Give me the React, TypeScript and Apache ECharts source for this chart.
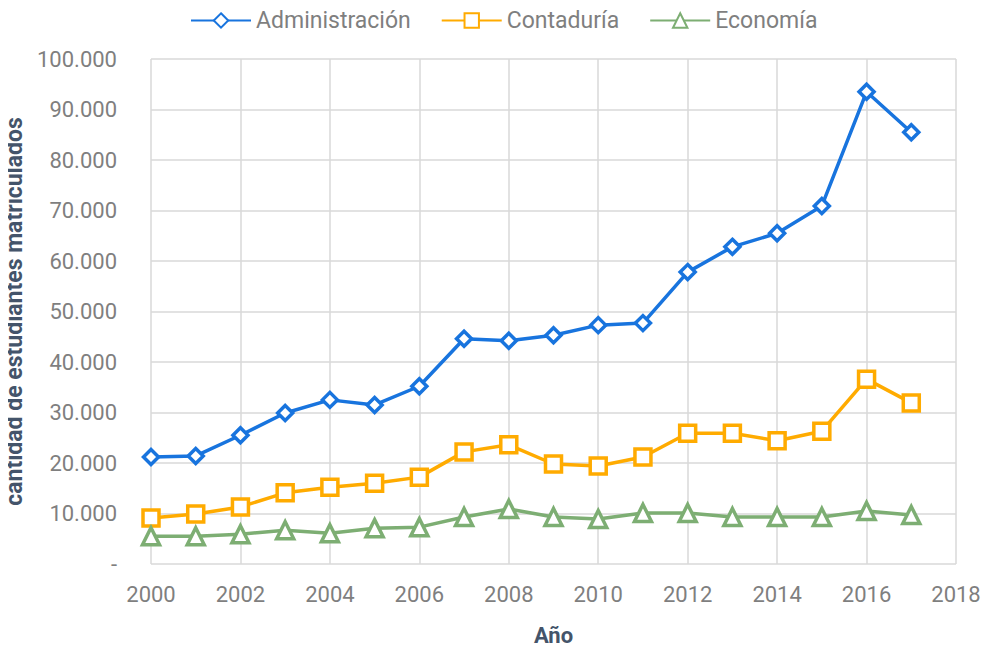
import React, { useEffect, useRef } from "react";
import * as echarts from "echarts";

const years = [2000, 2001, 2002, 2003, 2004, 2005, 2006, 2007, 2008, 2009, 2010, 2011, 2012, 2013, 2014, 2015, 2016, 2017];
const administracion = [21200, 21400, 25500, 29900, 32500, 31500, 35200, 44600, 44200, 45300, 47300, 47700, 57800, 62800, 65500, 70900, 93500, 85500];
const contaduria = [9100, 9900, 11300, 14100, 15200, 16000, 17200, 22200, 23600, 19800, 19400, 21200, 25900, 25900, 24400, 26300, 36600, 31900];
const economia = [5500, 5500, 5900, 6700, 6100, 7100, 7300, 9300, 10900, 9300, 8900, 10100, 10100, 9300, 9300, 9300, 10500, 9700];
const seriesNames = ["Administración", "Contaduría", "Economía"];

const FONT = "Roboto, 'Liberation Sans', Arial, sans-serif";

function fmt(v: number): string {
  if (v === 0) return "-";
  return String(v).replace(/\B(?=(\d{3})+(?!\d))/g, ".");
}

export default function App() {
  const ref = useRef<HTMLDivElement>(null);
  useEffect(() => {
    if (!ref.current) return;
    const chart = echarts.init(ref.current, undefined, { renderer: "svg" });
    const mk = (name: string, data: number[], color: string, symbol: string, size: number) => ({
      name,
      type: "line",
      data: years.map((y, i) => [y, data[i]]),
      symbol,
      symbolSize: size,
      showAllSymbol: true,
      lineStyle: { color, width: 3.5 },
      itemStyle: { color: "#ffffff", borderColor: color, borderWidth: 3.5 },
      emphasis: { disabled: true },
    });
    chart.setOption({
      animation: false,
      legend: {
        top: 4,
        left: 185,
        itemWidth: 60,
        itemHeight: 18,
        itemGap: 30,
        textStyle: { color: "#7f7f7f", fontSize: 23, fontFamily: FONT },
        data: seriesNames,
      },
      grid: { left: 151, right: 34, top: 59, bottom: 88, containLabel: false, outerBoundsMode: "none" },
      xAxis: {
        type: "value",
        min: 2000,
        max: 2018,
        interval: 2,
        name: "Año",
        nameLocation: "middle",
        nameGap: 60,
        nameTextStyle: { color: "#44546a", fontSize: 22, fontWeight: "bold", fontFamily: FONT },
        axisLine: { show: false },
        axisTick: { show: false },
        axisLabel: { color: "#7f7f7f", fontSize: 22, fontFamily: FONT, margin: 19, formatter: (v: number) => String(v) },
        splitLine: { show: true, lineStyle: { color: "#d9d9d9", width: 1.5 } },
      },
      yAxis: {
        type: "value",
        min: 0,
        max: 100000,
        interval: 10000,
        name: "cantidad de estudiantes matriculados",
        nameLocation: "middle",
        nameGap: 106,
        nameTextStyle: { color: "#44546a", fontSize: 23, fontWeight: "bold", fontFamily: FONT },
        axisLine: { show: false },
        axisTick: { show: false },
        axisLabel: { color: "#7f7f7f", fontSize: 22, fontFamily: FONT, margin: 34, formatter: (v: number) => fmt(v) },
        splitLine: { show: true, lineStyle: { color: "#d9d9d9", width: 1.5 } },
      },
      series: [
        mk(seriesNames[0], administracion, "#1874de", "diamond", 15),
        mk(seriesNames[1], contaduria, "#ffab00", "rect", 16),
        mk(seriesNames[2], economia, "#7dae73", "triangle", 17),
      ],
    });
    return () => chart.dispose();
  }, []);
  return <div ref={ref} style={{ width: 990, height: 652, margin: -8 }} />;
}
